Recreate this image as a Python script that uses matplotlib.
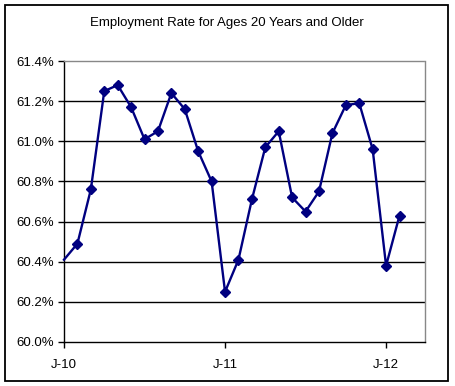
import matplotlib
matplotlib.use("Agg")
import matplotlib.pyplot as plt
from matplotlib.patches import Rectangle

plt.rcParams['font.family'] = ['Liberation Sans', 'DejaVu Sans']

# monthly values, Jan 2010 .. Feb 2012
months = list(range(26))
rate = [60.41, 60.49, 60.76, 61.25, 61.28, 61.17, 61.01, 61.05, 61.24, 61.16,
        60.95, 60.80, 60.25, 60.41, 60.71, 60.97, 61.05, 60.72, 60.65, 60.75,
        61.04, 61.18, 61.19, 60.96, 60.38, 60.63]
xtick_pos = [0, 12, 24]
xtick_lab = ['J-10', 'J-11', 'J-12']
yticks = [60.0, 60.2, 60.4, 60.6, 60.8, 61.0, 61.2, 61.4]

W, H = 455, 386
fig = plt.figure(figsize=(W / 100, H / 100), dpi=100)
ax = fig.add_axes([64 / W, 1 - 342 / H, (425 - 64) / W, (342 - 61) / H])

for y in yticks[1:-1]:
    ax.axhline(y, color='black', lw=1.0, zorder=1)

ax.plot(months, rate, color='#000080', lw=1.7, marker='D', ms=5.5,
        markevery=list(range(1, len(months))), zorder=3, clip_on=False)

ax.set_xlim(0, 26.9)
ax.set_ylim(60.0, 61.4)
ax.set_yticks(yticks)
ax.set_yticklabels(['%.1f%%' % v for v in yticks], fontsize=9.5)
ax.set_xticks(xtick_pos)
ax.set_xticklabels(xtick_lab, fontsize=9.5)
ax.tick_params(axis='y', direction='out', length=4, width=1, pad=3)
ax.tick_params(axis='x', direction='out', length=4, width=1, pad=8)

for s in ['left', 'bottom']:
    ax.spines[s].set_color('black')
    ax.spines[s].set_linewidth(1.0)
for s in ['top', 'right']:
    ax.spines[s].set_color('#888888')
    ax.spines[s].set_linestyle((0, (1, 1)))
    ax.spines[s].set_linewidth(1.0)

fig.text(227 / W, 1 - 23 / H, 'Employment Rate for Ages 20 Years and Older',
         ha='center', va='center', fontsize=9.5)

fig.patches.append(Rectangle((4.5 / W, 1 - 381 / H), 443.5 / W, 376.5 / H,
                             transform=fig.transFigure, fill=False,
                             edgecolor='black', lw=1.3))

fig.savefig('out.png', dpi=100)
